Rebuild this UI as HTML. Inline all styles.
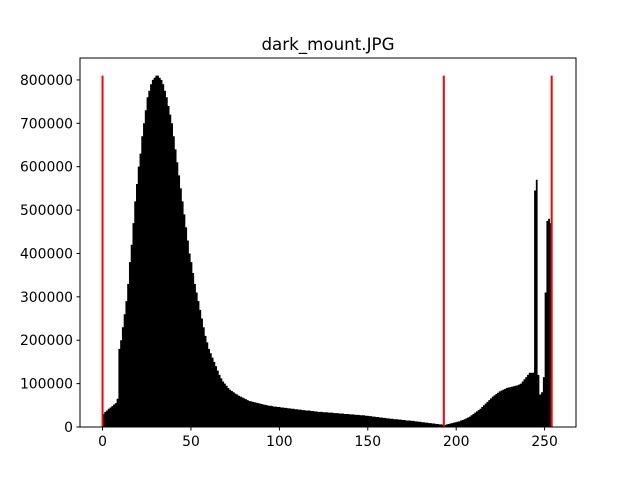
<!DOCTYPE html>
<html><head><meta charset="utf-8"><style>body{margin:0;background:#fff}svg{display:block;font-family:"DejaVu Sans","Liberation Sans",sans-serif}</style></head>
<body>
<svg id="c" width="640" height="480"></svg>
<script>
const binCounts = [30,35,38,42,45,48,52,55,65,
180,200,230,260,290,330,380,420,470,520,
560,600,630,670,700,730,760,775,790,800,
805,810,810,805,800,790,775,760,740,720,
700,670,640,610,580,550,520,490,460,430,
400,380,355,330,310,290,270,250,230,210,
195,180,170,160,150,140,130,120,112,105,
100,95,90,86,83,80,77,75,72,70,68,66,
64,62,60,59,58,57,56,55,54,53,52,51,50,49,49,48,47,47,46,46,
45,45,44,44,43,43,42,42,41,41,40,40,39,39,38,38,38,37,37,36,
36,35,35,35,34,34,34,33,33,33,32,32,32,31,31,31,30,30,30,29,
29,29,28,28,28,27,27,27,26,26,25,25,24,24,23,23,22,22,21,21,
20,20,19,19,18,18,18,17,17,16,16,15,15,15,14,14,13,13,12,12,
11,11,10,10,9,9,8,8,7,7,6,6,5,5,6,7,8,9,10,11,
12,13,15,16,18,20,22,24,27,30,33,36,39,42,46,50,54,58,62,66,
70,73,76,79,82,84,86,88,90,91,92,93,94,95,96,98,100,105,110,
115,120,125,125,125,545,570,120,75,80,115,310,475,480,470,0];
const redLines = [0,193,254];
const redLineHeight = 810000;
const xTicks = [0,50,100,150,200,250];
const yTicks = [0,100000,200000,300000,400000,500000,600000,700000,800000];

const NS="http://www.w3.org/2000/svg", svg=document.getElementById('c');
const L=80,R=576,T=58,B=427;
const counts=binCounts.map(v=>v*1000);
const ymax=Math.max(...counts,redLineHeight)*1.05;
const x=v=>L+(v+12.75)/(255*1.1)*(R-L);
const y=v=>B-v/ymax*(B-T);
function mk(t,a,p){const e=document.createElementNS(NS,t);for(const k in a)e.setAttribute(k,a[k]);(p||svg).appendChild(e);return e;}
const bw=255/256;
let d='M'+x(0)+','+B;
counts.forEach((c,i)=>{d+=' L'+x(i*bw)+','+y(c)+' L'+x((i+1)*bw)+','+y(c);});
d+=' L'+x(255)+','+B+' Z';
const bars=mk('path',{d:d,fill:'#000'});


redLines.forEach(v=>{const l=mk('line',{x1:x(v),x2:x(v),y1:B,y2:y(redLineHeight),stroke:'#f00','stroke-width':2});
 
 });
const fr=mk('rect',{x:L,y:T,width:R-L,height:B-T,fill:'none',stroke:'#000','stroke-width':1});


xTicks.forEach(v=>{mk('line',{x1:x(v),x2:x(v),y1:B,y2:B+3.5,stroke:'#000'});
 const t=mk('text',{x:x(v),y:B+19,'text-anchor':'middle','font-size':13.9});t.textContent=v;
 
 });
yTicks.forEach(v=>{mk('line',{x1:L,x2:L-3.5,y1:y(v),y2:y(v),stroke:'#000'});
 const t=mk('text',{x:L-7,y:y(v)+5,'text-anchor':'end','font-size':13.9});t.textContent=v;
 
 });
const ti=mk('text',{x:(L+R)/2,y:50,'text-anchor':'middle','font-size':16.7});ti.textContent='dark_mount.JPG';


</script>
</body></html>
